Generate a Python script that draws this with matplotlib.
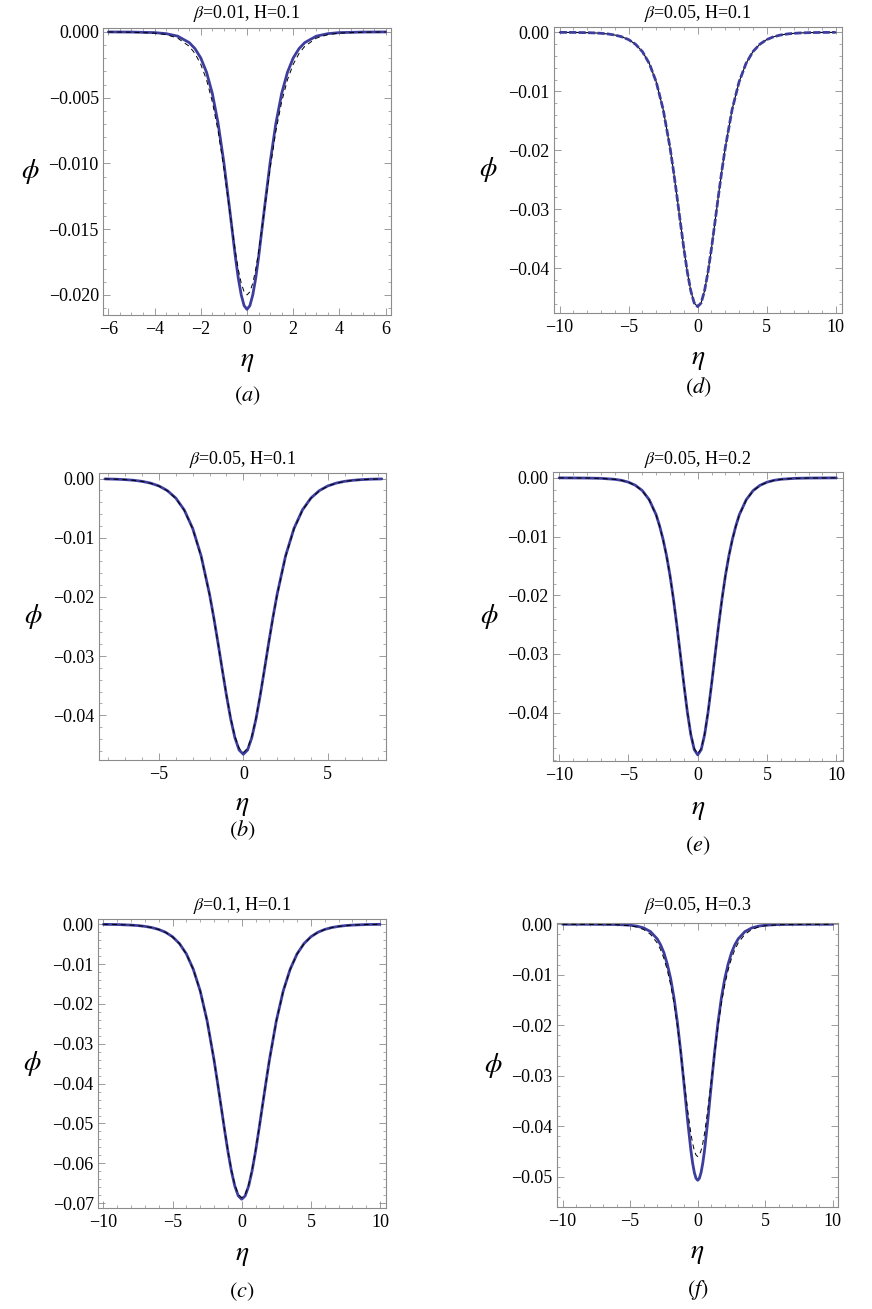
import matplotlib
matplotlib.use("Agg")
import matplotlib.pyplot as plt
from matplotlib.ticker import MultipleLocator, FuncFormatter

plt.rcParams['font.family'] = ['Liberation Serif', 'DejaVu Serif']
plt.rcParams['mathtext.fontset'] = 'stix'
plt.rcParams['axes.unicode_minus'] = True

# ---------------- data ----------------
a_eta = [-6, -5, -4, -3.5, -3, -2.5, -2.25, -2, -1.75, -1.5, -1.25, -1, -0.75, -0.5, -0.375, -0.25, -0.125,
         0, 0.125, 0.25, 0.375, 0.5, 0.75, 1, 1.25, 1.5, 1.75, 2, 2.25, 2.5, 3, 3.5, 4, 5, 6]
a_solid = [0.0, -0.00001, -0.00005, -0.00013, -0.00032, -0.00081, -0.00127, -0.00198, -0.00307, -0.00468,
           -0.00695, -0.00994, -0.01349, -0.01715, -0.01875, -0.02000, -0.02082,
           -0.0211,
           -0.02082, -0.02000, -0.01875, -0.01715, -0.01349, -0.00994, -0.00695, -0.00468, -0.00307,
           -0.00198, -0.00127, -0.00081, -0.00032, -0.00013, -0.00005, -0.00001, 0.0]
a_dashed = [0.0, -0.00002, -0.00009, -0.00020, -0.00047, -0.00109, -0.00164, -0.00246, -0.00364, -0.00531,
            -0.00754, -0.01038, -0.01360, -0.01675, -0.01808, -0.01911, -0.01977,
            -0.0200,
            -0.01977, -0.01911, -0.01808, -0.01675, -0.01360, -0.01038, -0.00754, -0.00531, -0.00364,
            -0.00246, -0.00164, -0.00109, -0.00047, -0.00020, -0.00009, -0.00002, 0.0]

b_eta = [-8.2, -7.5, -7, -6.5, -6, -5.5, -5, -4.5, -4, -3.5, -3, -2.5, -2, -1.75, -1.5, -1.25, -1, -0.75, -0.5, -0.25,
         0,
         0.25, 0.5, 0.75, 1, 1.25, 1.5, 1.75, 2, 2.5, 3, 3.5, 4, 4.5, 5, 5.5, 6, 6.5, 7, 7.5, 8.2]
b_solid = [-0.00005, -0.00010, -0.00017, -0.00028, -0.00046, -0.00076, -0.00124, -0.00203, -0.00329, -0.00530,
           -0.00842, -0.01307, -0.01957, -0.02351, -0.02780, -0.03227, -0.03665, -0.04062, -0.04380, -0.04588,
           -0.0466,
           -0.04588, -0.04380, -0.04062, -0.03665, -0.03227, -0.02780, -0.02351, -0.01957, -0.01307, -0.00842,
           -0.00530, -0.00329, -0.00203, -0.00124, -0.00076, -0.00046, -0.00028, -0.00017, -0.00010, -0.00005]
b_dashed = [-0.00005, -0.00010, -0.00018, -0.00029, -0.00047, -0.00078, -0.00127, -0.00207, -0.00335, -0.00538,
            -0.00852, -0.01320, -0.01970, -0.02362, -0.02785, -0.03225, -0.03655, -0.04045, -0.04355, -0.04558,
            -0.0463,
            -0.04558, -0.04355, -0.04045, -0.03655, -0.03225, -0.02785, -0.02362, -0.01970, -0.01320, -0.00852,
            -0.00538, -0.00335, -0.00207, -0.00127, -0.00078, -0.00047, -0.00029, -0.00018, -0.00010, -0.00005]

c_eta = [-10, -9, -8, -7.5, -7, -6.5, -6, -5.5, -5, -4.5, -4, -3.5, -3, -2.5, -2, -1.75, -1.5, -1.25, -1, -0.75,
         -0.5, -0.25,
         0,
         0.25, 0.5, 0.75, 1, 1.25, 1.5, 1.75, 2, 2.5, 3, 3.5, 4, 4.5, 5, 5.5, 6, 6.5, 7, 7.5, 8, 9, 10]
c_solid = [-0.00004, -0.00009, -0.00023, -0.00035, -0.00055, -0.00085, -0.00132, -0.00204, -0.00316, -0.00487,
           -0.00745, -0.01132, -0.01675, -0.02428, -0.03410, -0.03973, -0.04552, -0.05139, -0.05696, -0.06185,
           -0.06570, -0.06815,
           -0.0690,
           -0.06815, -0.06570, -0.06185, -0.05696, -0.05139, -0.04552, -0.03973, -0.03410, -0.02428, -0.01675,
           -0.01132, -0.00745, -0.00487, -0.00316, -0.00204, -0.00132, -0.00085, -0.00055, -0.00035, -0.00023,
           -0.00009, -0.00004]
c_dashed = [-0.00004, -0.00009, -0.00023, -0.00036, -0.00056, -0.00086, -0.00134, -0.00207, -0.00320, -0.00492,
            -0.00751, -0.01139, -0.01683, -0.02435, -0.03412, -0.03975, -0.04545, -0.05124, -0.05678, -0.06158,
            -0.06535, -0.06776,
            -0.0686,
            -0.06776, -0.06535, -0.06158, -0.05678, -0.05124, -0.04545, -0.03975, -0.03412, -0.02435, -0.01683,
            -0.01139, -0.00751, -0.00492, -0.00320, -0.00207, -0.00134, -0.00086, -0.00056, -0.00036, -0.00023,
            -0.00009, -0.00004]

d_eta = [-10, -9, -8, -7.5, -7, -6.5, -6, -5.5, -5, -4.5, -4, -3.5, -3, -2.5, -2, -1.75, -1.5, -1.25, -1, -0.75,
         -0.5, -0.25,
         0,
         0.25, 0.5, 0.75, 1, 1.25, 1.5, 1.75, 2, 2.5, 3, 3.5, 4, 4.5, 5, 5.5, 6, 6.5, 7, 7.5, 8, 9, 10]
d_solid = [-0.00001, -0.00002, -0.00006, -0.00010, -0.00017, -0.00028, -0.00046, -0.00076, -0.00124, -0.00203,
           -0.00329, -0.00530, -0.00842, -0.01307, -0.01957, -0.02351, -0.02780, -0.03227, -0.03665, -0.04062,
           -0.04380, -0.04588,
           -0.0465,
           -0.04588, -0.04380, -0.04062, -0.03665, -0.03227, -0.02780, -0.02351, -0.01957, -0.01307, -0.00842,
           -0.00530, -0.00329, -0.00203, -0.00124, -0.00076, -0.00046, -0.00028, -0.00017, -0.00010, -0.00006,
           -0.00002, -0.00001]
d_dashed = [-0.00001, -0.00002, -0.00006, -0.00010, -0.00017, -0.00028, -0.00046, -0.00076, -0.00124, -0.00203,
            -0.00329, -0.00530, -0.00842, -0.01307, -0.01957, -0.02351, -0.02780, -0.03227, -0.03665, -0.04062,
            -0.04380, -0.04588,
            -0.0465,
            -0.04588, -0.04380, -0.04062, -0.03665, -0.03227, -0.02780, -0.02351, -0.01957, -0.01307, -0.00842,
            -0.00530, -0.00329, -0.00203, -0.00124, -0.00076, -0.00046, -0.00028, -0.00017, -0.00010, -0.00006,
            -0.00002, -0.00001]

e_eta = [-10, -8, -7, -6, -5.5, -5, -4.5, -4, -3.5, -3, -2.75, -2.5, -2.25, -2, -1.75, -1.5, -1.25, -1, -0.75,
         -0.5, -0.25,
         0,
         0.25, 0.5, 0.75, 1, 1.25, 1.5, 1.75, 2, 2.25, 2.5, 2.75, 3, 3.5, 4, 4.5, 5, 5.5, 6, 7, 8, 10]
e_solid = [0.0, -0.00003, -0.00008, -0.00024, -0.00042, -0.00073, -0.00126, -0.00216, -0.00372, -0.00628,
           -0.00819, -0.01047, -0.01324, -0.01661, -0.02065, -0.02523, -0.03017, -0.03515, -0.03986,
           -0.04373, -0.04630,
           -0.0472,
           -0.04630, -0.04373, -0.03986, -0.03515, -0.03017, -0.02523, -0.02065, -0.01661, -0.01324,
           -0.01047, -0.00819, -0.00628, -0.00372, -0.00216, -0.00126, -0.00073, -0.00042, -0.00024,
           -0.00008, -0.00003, 0.0]
e_dashed = [0.0, -0.00003, -0.00008, -0.00025, -0.00043, -0.00075, -0.00129, -0.00221, -0.00378, -0.00637,
            -0.00828, -0.01058, -0.01334, -0.01672, -0.02075, -0.02530, -0.03018, -0.03510, -0.03975,
            -0.04358, -0.04612,
            -0.0470,
            -0.04612, -0.04358, -0.03975, -0.03510, -0.03018, -0.02530, -0.02075, -0.01672, -0.01334,
            -0.01058, -0.00828, -0.00637, -0.00378, -0.00221, -0.00129, -0.00075, -0.00043, -0.00025,
            -0.00008, -0.00003, 0.0]

f_eta = [-10, -8, -6, -5, -4.5, -4, -3.5, -3, -2.75, -2.5, -2.25, -2, -1.75, -1.5, -1.25, -1, -0.75, -0.5,
         -0.375, -0.25, -0.125,
         0,
         0.125, 0.25, 0.375, 0.5, 0.75, 1, 1.25, 1.5, 1.75, 2, 2.25, 2.5, 2.75, 3, 3.5, 4, 4.5, 5, 6, 8, 10]
f_solid = [0.0, 0.0, -0.00004, -0.00018, -0.00036, -0.00072, -0.00144, -0.00288, -0.00405, -0.00565,
           -0.00791, -0.01081, -0.01465, -0.01952, -0.02539, -0.03200, -0.03880, -0.04490,
           -0.04732, -0.04916, -0.05031,
           -0.0507,
           -0.05031, -0.04916, -0.04732, -0.04490, -0.03880, -0.03200, -0.02539, -0.01952, -0.01465,
           -0.01081, -0.00791, -0.00565, -0.00405, -0.00288, -0.00144, -0.00072, -0.00036, -0.00018,
           -0.00004, 0.0, 0.0]
f_dashed = [0.0, -0.00001, -0.00008, -0.00029, -0.00055, -0.00104, -0.00197, -0.00368, -0.00501, -0.00677,
            -0.00909, -0.01201, -0.01572, -0.02024, -0.02554, -0.03115, -0.03671, -0.04152,
            -0.04341, -0.04482, -0.04570,
            -0.0460,
            -0.04570, -0.04482, -0.04341, -0.04152, -0.03671, -0.03115, -0.02554, -0.02024, -0.01572,
            -0.01201, -0.00909, -0.00677, -0.00501, -0.00368, -0.00197, -0.00104, -0.00055, -0.00029,
            -0.00008, -0.00001, 0.0]

titles = [r"$\beta$=0.01, H=0.1", r"$\beta$=0.05, H=0.1", r"$\beta$=0.1, H=0.1",
          r"$\beta$=0.05, H=0.1", r"$\beta$=0.05, H=0.2", r"$\beta$=0.05, H=0.3"]
labels = [r"$(a)$", r"$(b)$", r"$(c)$", r"$(d)$", r"$(e)$", r"$(f)$"]

# ---------------- layout ----------------
FIG_W, FIG_H = 872, 1309
fig = plt.figure(figsize=(FIG_W / 100, FIG_H / 100), dpi=100)

BLUE = '#3d3d9e'
FRAME = '#8c8c8c'


def px2pt(v):
    return v * 72.0 / 100.0


def make_fmt(nd):
    def f(v, pos):
        if abs(v) < 1e-12:
            v = 0.0
        s = ('%.' + str(nd) + 'f') % v
        return s.replace('-', '\u2212')
    return f


panels = [
    dict(r=(103, 28, 391, 315), xl=(-6.23, 6.23), yl=(-0.02153, 0.0003), xM=2, xm=0.5, yM=0.005, ym=0.001,
         nd=3, phi=73, eta=46, lab=81, tit=15, x=a_eta, s=a_solid, d=a_dashed, swap=False, t=0),
    dict(r=(99, 473, 386, 760), xl=(-8.55, 8.45), yl=(-0.04757, 0.00095), xM=5, xm=1, yM=0.01, ym=0.002,
         nd=2, phi=66, eta=45, lab=70, tit=14, x=b_eta, s=b_solid, d=b_dashed, swap=False, t=1),
    dict(r=(98, 919, 386, 1208), xl=(-10.39, 10.43), yl=(-0.0712, 0.0013), xM=5, xm=1, yM=0.01, ym=0.002,
         nd=2, phi=66, eta=48, lab=84, tit=14, x=c_eta, s=c_solid, d=c_dashed, swap=False, t=2),
    dict(r=(554, 27, 842, 313), xl=(-10.41, 10.46), yl=(-0.04758, 0.0009), xM=5, xm=1, yM=0.01, ym=0.002,
         nd=2, phi=66, eta=47, lab=74, tit=14, x=d_eta, s=d_solid, d=d_dashed, swap=True, t=3),
    dict(r=(553, 472, 843, 761), xl=(-10.44, 10.48), yl=(-0.04824, 0.001), xM=5, xm=1, yM=0.01, ym=0.002,
         nd=2, phi=64, eta=48, lab=85, tit=13, x=e_eta, s=e_solid, d=e_dashed, swap=False, t=4),
    dict(r=(557, 923, 838, 1207), xl=(-10.42, 10.39), yl=(-0.056, 0.00026), xM=5, xm=1, yM=0.01, ym=0.002,
         nd=2, phi=64, eta=46, lab=83, tit=18, x=f_eta, s=f_solid, d=f_dashed, swap=False, t=5),
]

for p in panels:
    x0, y0, x1, y1 = p['r']
    ax = fig.add_axes([x0 / FIG_W, 1 - y1 / FIG_H, (x1 - x0) / FIG_W, (y1 - y0) / FIG_H])
    if p['swap']:
        ax.plot(p['x'], p['s'], color='black', lw=0.8, zorder=2)
        ax.plot(p['x'], p['d'], color=BLUE, lw=2.0, dashes=(2.6, 0.8), zorder=3)
    else:
        ax.plot(p['x'], p['s'], color=BLUE, lw=2.0, zorder=2, solid_capstyle='round',
                solid_joinstyle='round')
        ax.plot(p['x'], p['d'], color='black', lw=0.7, dashes=(5, 4), zorder=3)
    ax.set_xlim(*p['xl'])
    ax.set_ylim(*p['yl'])
    ax.xaxis.set_major_locator(MultipleLocator(p['xM']))
    ax.xaxis.set_minor_locator(MultipleLocator(p['xm']))
    ax.yaxis.set_major_locator(MultipleLocator(p['yM']))
    ax.yaxis.set_minor_locator(MultipleLocator(p['ym']))
    ax.xaxis.set_major_formatter(FuncFormatter(make_fmt(0)))
    ax.yaxis.set_major_formatter(FuncFormatter(make_fmt(p['nd'])))
    for sp in ax.spines.values():
        sp.set_color(FRAME)
        sp.set_linewidth(0.8)
    ax.tick_params(which='both', direction='in', top=True, right=True, color=FRAME,
                   labelcolor='black', labelsize=13)
    ax.tick_params(which='major', length=5, width=0.6)
    ax.tick_params(which='minor', length=2.5, width=0.5)
    ax.tick_params(axis='x', which='major', pad=4.5)
    ax.tick_params(axis='y', which='major', pad=3)

    ax.annotate(titles[p['t']], xy=(0.5, 1), xycoords='axes fraction',
                xytext=(0, px2pt(p['tit'])), textcoords='offset points',
                ha='center', va='center', fontsize=13)
    ax.annotate(r"$\phi$", xy=(0, 0.5), xycoords='axes fraction',
                xytext=(-px2pt(p['phi']), 0), textcoords='offset points',
                ha='center', va='center', fontsize=20)
    ax.annotate(r"$\eta$", xy=(0.5, 0), xycoords='axes fraction',
                xytext=(0, -px2pt(p['eta'])), textcoords='offset points',
                ha='center', va='center', fontsize=20)
    ax.annotate(labels[p['t']], xy=(0.5, 0), xycoords='axes fraction',
                xytext=(0, -px2pt(p['lab'])), textcoords='offset points',
                ha='center', va='center', fontsize=16)

fig.savefig("out.png", dpi=100)
